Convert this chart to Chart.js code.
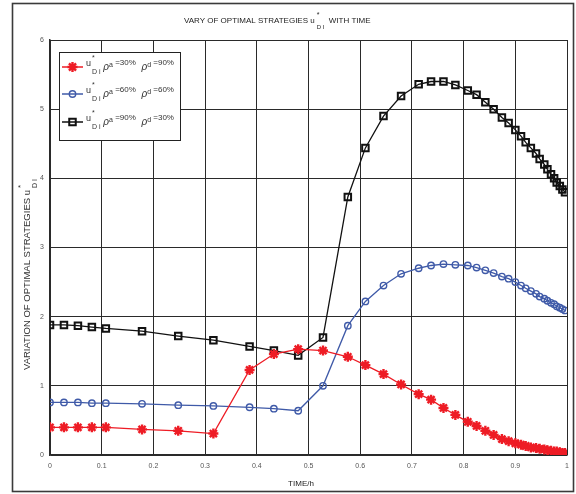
<!DOCTYPE html>
<html>
<head>
<meta charset="utf-8">
<script src="https://cdn.jsdelivr.net/npm/chart.js@4/dist/chart.umd.min.js"></script>
<style>
  body { margin: 0; background: #fff; }
  #wrap { width: 576px; height: 494px; }
</style>
</head>
<body>
<div id="wrap"><canvas id="chart" width="576" height="494"></canvas></div>
<script>
// Time points (h), shared by all three curves
const timeH = [0, 0.027, 0.054, 0.081, 0.108, 0.178, 0.248, 0.316, 0.386, 0.433,
  0.480, 0.528, 0.576, 0.610, 0.645, 0.679, 0.713, 0.737, 0.761, 0.784,
  0.808, 0.825, 0.842, 0.858, 0.874, 0.887, 0.900, 0.911, 0.920, 0.930,
  0.940, 0.947, 0.956, 0.962, 0.969, 0.975, 0.980, 0.986, 0.991, 0.996];

// u*_Di for rho_a=30%, rho_d=90%
const uRed = [0.40, 0.40, 0.40, 0.40, 0.40, 0.37, 0.35, 0.31, 1.23, 1.46,
  1.53, 1.51, 1.42, 1.30, 1.17, 1.02, 0.88, 0.80, 0.68, 0.58,
  0.48, 0.42, 0.35, 0.29, 0.23, 0.20, 0.17, 0.15, 0.13, 0.11,
  0.10, 0.09, 0.08, 0.07, 0.06, 0.05, 0.05, 0.04, 0.03, 0.03];

// rho_a=60%, rho_d=60%
const uBlue = [0.76, 0.76, 0.76, 0.75, 0.75, 0.74, 0.72, 0.71, 0.69, 0.67,
  0.64, 1.00, 1.87, 2.22, 2.45, 2.62, 2.70, 2.74, 2.76, 2.75,
  2.74, 2.71, 2.67, 2.63, 2.58, 2.55, 2.50, 2.45, 2.41, 2.37,
  2.33, 2.29, 2.26, 2.23, 2.20, 2.18, 2.15, 2.13, 2.11, 2.09];

// rho_a=90%, rho_d=30%
const uBlack = [1.88, 1.88, 1.87, 1.85, 1.83, 1.79, 1.72, 1.66, 1.57, 1.51,
  1.44, 1.70, 3.73, 4.44, 4.90, 5.19, 5.36, 5.40, 5.40, 5.35,
  5.27, 5.21, 5.10, 5.00, 4.88, 4.80, 4.70, 4.61, 4.52, 4.44,
  4.36, 4.28, 4.20, 4.13, 4.06, 4.00, 3.94, 3.89, 3.84, 3.80];

const xTicks = [0, 0.1, 0.2, 0.3, 0.4, 0.5, 0.6, 0.7, 0.8, 0.9, 1];
const yTicks = [0, 1, 2, 3, 4, 5, 6];
const legendRho = [['=30%', '=90%'], ['=60%', '=60%'], ['=90%', '=30%']];

const FONT = '"Liberation Sans", Arial, sans-serif';
const RED = '#ee1c25';
const BLUE = '#3f5aa8';
const BLACK = '#111111';

const styles = [
  { color: RED, pointStyle: 'star', radius: 5, borderWidth: 2.4 },
  { color: BLUE, pointStyle: 'circle', radius: 3.2, borderWidth: 1.4 },
  { color: BLACK, pointStyle: 'rect', radius: 4.6, borderWidth: 2 }
];
const series = [uRed, uBlue, uBlack];

function makeDataset(values, st) {
  return {
    data: timeH.map((t, i) => ({ x: t, y: values[i] })),
    showLine: true,
    borderColor: st.color,
    borderWidth: 1.3,
    pointStyle: st.pointStyle,
    pointRadius: st.radius,
    pointBorderWidth: st.borderWidth,
    pointBorderColor: st.color,
    pointBackgroundColor: 'rgba(255,255,255,0)',
    tension: 0
  };
}

// text runs with super/subscripts: {t, size, dy, dx, italic, stay}
function drawRich(ctx, x, y, parts, color) {
  ctx.fillStyle = color;
  ctx.textBaseline = 'alphabetic';
  ctx.textAlign = 'left';
  parts.forEach(p => {
    ctx.font = (p.italic ? 'italic ' : '') + p.size + 'px ' + FONT;
    ctx.fillText(p.t, x + (p.dx || 0), y + (p.dy || 0));
    if (!p.stay) x += ctx.measureText(p.t).width + (p.dx || 0);
  });
}

function drawMarker(ctx, st, x, y) {
  ctx.strokeStyle = st.color;
  ctx.lineWidth = st.borderWidth;
  ctx.beginPath();
  const r = st.radius;
  if (st.pointStyle === 'star') {
    ctx.moveTo(x - r, y); ctx.lineTo(x + r, y);
    ctx.moveTo(x, y - r); ctx.lineTo(x, y + r);
    const d = r * Math.SQRT1_2;
    ctx.moveTo(x - d, y - d); ctx.lineTo(x + d, y + d);
    ctx.moveTo(x - d, y + d); ctx.lineTo(x + d, y - d);
  } else if (st.pointStyle === 'circle') {
    ctx.arc(x, y, r, 0, Math.PI * 2);
  } else {
    const s = r * Math.SQRT1_2;
    ctx.rect(x - s, y - s, 2 * s, 2 * s);
  }
  ctx.stroke();
}

const decor = {
  id: 'decor',
  beforeDraw(chart) {
    const ctx = chart.ctx;
    ctx.save();
    ctx.fillStyle = '#fff';
    ctx.fillRect(0, 0, chart.width, chart.height);
    // outer frame
    ctx.strokeStyle = '#3a3a3a';
    ctx.lineWidth = 1.6;
    ctx.strokeRect(12.5, 3.5, 561, 488);
    ctx.restore();
  },
  afterDraw(chart) {
    const ctx = chart.ctx;
    ctx.save();

    // title
    drawRich(ctx, 184, 23, [
      { t: 'VARY OF OPTIMAL STRATEGIES u', size: 8 },
      { t: '*', size: 7, dy: -6, dx: 2, stay: true },
      { t: 'D I', size: 6, dy: 6, dx: 2 },
      { t: '  WITH TIME', size: 8 }
    ], '#222');

    // x axis title
    ctx.font = '8px ' + FONT;
    ctx.fillStyle = '#222';
    ctx.textAlign = 'center';
    ctx.fillText('TIME/h', 301, 486);

    // y axis title
    ctx.save();
    ctx.translate(30, 370);
    ctx.rotate(-Math.PI / 2);
    drawRich(ctx, 0, 0, [
      { t: 'VARIATION OF OPTIMAL STRATEGIES u', size: 9.5 },
      { t: '*', size: 8, dy: -7, dx: 2, stay: true },
      { t: 'D I', size: 7, dy: 7, dx: 2 }
    ], '#333');
    ctx.restore();

    // legend
    const bx = 59.5, by = 52.5, bw = 121, bh = 88;
    ctx.fillStyle = '#fff';
    ctx.fillRect(bx, by, bw, bh);
    ctx.strokeStyle = '#222';
    ctx.lineWidth = 1;
    ctx.strokeRect(bx, by, bw, bh);
    const rows = [67, 94, 122];
    rows.forEach((ry, i) => {
      const st = styles[i];
      ctx.strokeStyle = st.color;
      ctx.lineWidth = 1.5;
      ctx.beginPath();
      ctx.moveTo(62, ry); ctx.lineTo(83, ry);
      ctx.stroke();
      drawMarker(ctx, st, 72.5, ry);
      drawRich(ctx, 86, ry - 1, [
        { t: 'u', size: 9 },
        { t: '*', size: 7, dy: -6, dx: 1, stay: true },
        { t: 'D i', size: 7, dy: 8, dx: 1 },
        { t: ' ρ', size: 10, dy: 4, italic: true },
        { t: 'a', size: 7, dy: 1 },
        { t: ' ' + legendRho[i][0], size: 8, dy: -1 },
        { t: '  ρ', size: 10, dy: 4, italic: true },
        { t: 'd', size: 7, dy: 1 },
        { t: ' ' + legendRho[i][1], size: 8, dy: -1 }
      ], '#333');
    });

    ctx.restore();
  }
};

new Chart(document.getElementById('chart'), {
  type: 'scatter',
  data: { datasets: series.map((v, i) => makeDataset(v, styles[i])) },
  options: {
    responsive: false,
    animation: false,
    devicePixelRatio: 1,
    layout: { padding: { top: 40, right: 8, left: 0, bottom: 0 } },
    plugins: { legend: { display: false }, tooltip: { enabled: false } },
    scales: {
      x: {
        type: 'linear',
        min: 0, max: 1,
        afterBuildTicks: s => { s.ticks = xTicks.map(v => ({ value: v })); },
        afterFit: s => { s.height = 39; },
        grid: { color: '#2a2a2a', lineWidth: 1, drawTicks: false },
        border: { color: '#2a2a2a', width: 1.5 },
        ticks: {
          padding: 7,
          color: '#555',
          font: { family: FONT, size: 7 },
          maxRotation: 0,
          callback: v => String(+v.toFixed(1))
        }
      },
      y: {
        type: 'linear',
        min: 0, max: 6,
        afterBuildTicks: s => { s.ticks = yTicks.map(v => ({ value: v })); },
        afterFit: s => { s.width = 50; },
        grid: { color: '#2a2a2a', lineWidth: 1, drawTicks: false },
        border: { color: '#2a2a2a', width: 1.5 },
        ticks: {
          padding: 6,
          color: '#555',
          font: { family: FONT, size: 7 }
        }
      }
    }
  },
  plugins: [decor]
});
</script>
</body>
</html>
